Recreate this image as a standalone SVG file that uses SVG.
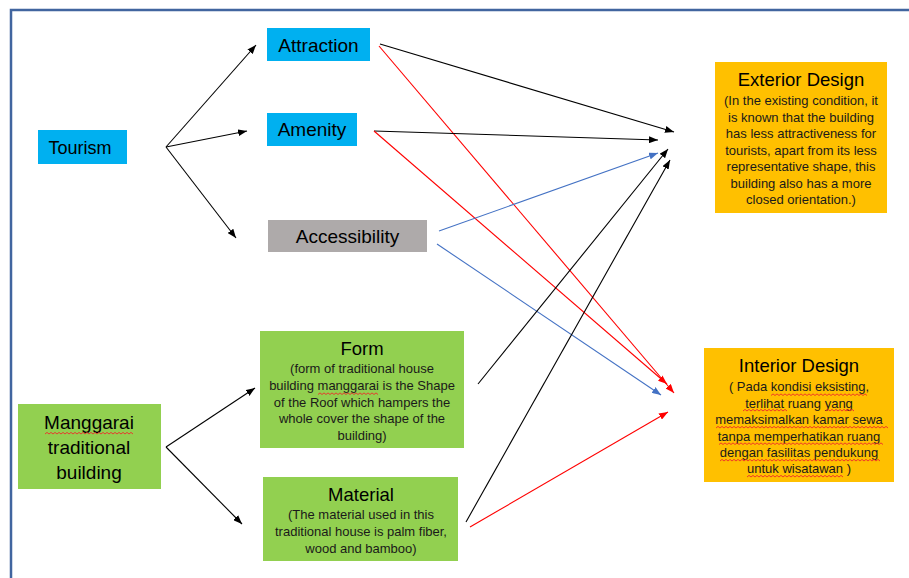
<svg xmlns="http://www.w3.org/2000/svg" width="909" height="578" viewBox="0 0 909 578">
<defs>
<style>
.t{font-family:"Liberation Sans",Arial,sans-serif;text-anchor:middle;fill:#000}
.lbl{font-size:19px}
.ttl{font-size:18.5px}
.body{font-size:13px;fill:#1a1a1a}
.ln{fill:none;stroke-width:1.1}
.k{stroke:#000}
.r{stroke:#FF0000}
.b{stroke:#4472C4}
.sq{fill:none;stroke:#EE2A2A;stroke-width:0.9}
</style>
<marker id="ak" viewBox="0 0 10 10" refX="10" refY="5" markerUnits="userSpaceOnUse" markerWidth="9" markerHeight="7" orient="auto" preserveAspectRatio="none"><path d="M0,0 L10,5 L0,10 z" fill="#000"/></marker>
<marker id="ar" viewBox="0 0 10 10" refX="10" refY="5" markerUnits="userSpaceOnUse" markerWidth="9" markerHeight="7" orient="auto" preserveAspectRatio="none"><path d="M0,0 L10,5 L0,10 z" fill="#FF0000"/></marker>
<marker id="ab" viewBox="0 0 10 10" refX="10" refY="5" markerUnits="userSpaceOnUse" markerWidth="9" markerHeight="7" orient="auto" preserveAspectRatio="none"><path d="M0,0 L10,5 L0,10 z" fill="#4472C4"/></marker>
</defs>
<rect width="909" height="578" fill="#fff"/>
<path d="M11,578 L11,10 L909,10" fill="none" stroke="#41659F" stroke-width="2.5"/>

<g id="connectors">
<path class="ln k" d="M166,147 L256,45" marker-end="url(#ak)"/>
<path class="ln k" d="M166,147 L247,131" marker-end="url(#ak)"/>
<path class="ln k" d="M166,147 L236,238" marker-end="url(#ak)"/>
<path class="ln k" d="M166,447 L255,388" marker-end="url(#ak)"/>
<path class="ln k" d="M166,447 L242,524" marker-end="url(#ak)"/>
<path class="ln k" d="M380,44 L674,132" marker-end="url(#ak)"/>
<path class="ln r" d="M379,46 L674,393" marker-end="url(#ar)"/>
<path class="ln k" d="M374,131 L658,140" marker-end="url(#ak)"/>
<path class="ln r" d="M374,131 L667,384" marker-end="url(#ar)"/>
<path class="ln b" d="M439,231 L658,153" marker-end="url(#ab)"/>
<path class="ln b" d="M437,244 L661,395" marker-end="url(#ab)"/>
<path class="ln k" d="M478,384 L668,149" marker-end="url(#ak)"/>
<path class="ln k" d="M466,522 L670,160" marker-end="url(#ak)"/>
<path class="ln r" d="M470,527 L668,412" marker-end="url(#ar)"/>
</g>

<g id="attraction">
<rect x="267" y="28" width="103" height="33" fill="#00B0F0"/>
<text class="t lbl" x="318.5" y="52">Attraction</text>
</g>
<g id="amenity">
<rect x="267" y="113" width="90" height="33" fill="#00B0F0"/>
<text class="t lbl" x="312" y="136">Amenity</text>
</g>
<g id="tourism">
<rect x="38" y="130" width="89" height="34" fill="#00B0F0"/>
<text class="t" style="font-size:18px" x="80" y="154">Tourism</text>
</g>
<g id="accessibility">
<rect x="268" y="220" width="159" height="32" fill="#AEAAAA"/>
<text class="t lbl" x="347.5" y="243">Accessibility</text>
</g>
<g id="exterior">
<rect x="715" y="62" width="172" height="151" fill="#FFC000"/>
<text class="t ttl" x="801" y="86">Exterior Design</text>
<text class="t body" x="801" y="105">(In the existing condition, it</text>
<text class="t body" x="801" y="121.5">is known that the building</text>
<text class="t body" x="801" y="138">has less attractiveness for</text>
<text class="t body" x="801" y="154.5">tourists, apart from its less</text>
<text class="t body" x="801" y="171">representative shape, this</text>
<text class="t body" x="801" y="187.5">building also has a more</text>
<text class="t body" x="801" y="204">closed orientation.)</text>
</g>
<g id="interior">
<rect x="704" y="348" width="190" height="134" fill="#FFC000"/>
<text class="t ttl" x="799" y="372">Interior Design</text>
<text class="t body" x="799" y="391">( Pada kondisi eksisting,</text>
<text class="t body" x="799" y="407.5">terlihat ruang yang</text>
<text class="t body" x="799" y="424">memaksimalkan kamar sewa</text>
<text class="t body" x="799" y="440.5">tanpa memperhatikan ruang</text>
<text class="t body" x="799" y="457">dengan fasilitas pendukung</text>
<text class="t body" x="799" y="473">untuk wisatawan )</text>
<path class="sq" d="M771,395.5 l2,-1.6 2,1.6 2,-1.6 2,1.6 2,-1.6 2,1.6 2,-1.6 2,1.6 2,-1.6 2,1.6 2,-1.6 2,1.6 2,-1.6 2,1.6 2,-1.6 2,1.6 2,-1.6 2,1.6 2,-1.6 2,1.6 2,-1.6 2,1.6 2,-1.6 2,1.6 2,-1.6 2,1.6 2,-1.6 2,1.6 2,-1.6 2,1.6 2,-1.6 2,1.6 2,-1.6 2,1.6 2,-1.6 2,1.6 2,-1.6 2,1.6 2,-1.6 2,1.6 2,-1.6 2,1.6 2,-1.6 2,1.6 2,-1.6 2,1.6 2,-1.6 2,1.6"/>
<path class="sq" d="M743,411 l2,-1.6 2,1.6 2,-1.6 2,1.6 2,-1.6 2,1.6 2,-1.6 2,1.6 2,-1.6 2,1.6 2,-1.6 2,1.6 2,-1.6 2,1.6 2,-1.6 2,1.6 2,-1.6 2,1.6 2,-1.6 2,1.6 2,-1.6 2,1.6"/>
<path class="sq" d="M826,411 l2,-1.6 2,1.6 2,-1.6 2,1.6 2,-1.6 2,1.6 2,-1.6 2,1.6 2,-1.6 2,1.6 2,-1.6 2,1.6 2,-1.6 2,1.6"/>
<path class="sq" d="M716,428 l2,-1.6 2,1.6 2,-1.6 2,1.6 2,-1.6 2,1.6 2,-1.6 2,1.6 2,-1.6 2,1.6 2,-1.6 2,1.6 2,-1.6 2,1.6 2,-1.6 2,1.6 2,-1.6 2,1.6 2,-1.6 2,1.6 2,-1.6 2,1.6 2,-1.6 2,1.6 2,-1.6 2,1.6 2,-1.6 2,1.6 2,-1.6 2,1.6 2,-1.6 2,1.6 2,-1.6 2,1.6 2,-1.6 2,1.6 2,-1.6 2,1.6 2,-1.6 2,1.6 2,-1.6 2,1.6 2,-1.6 2,1.6 2,-1.6 2,1.6 2,-1.6 2,1.6 2,-1.6 2,1.6 2,-1.6 2,1.6 2,-1.6 2,1.6 2,-1.6 2,1.6 2,-1.6 2,1.6 2,-1.6 2,1.6 2,-1.6 2,1.6 2,-1.6 2,1.6 2,-1.6 2,1.6 2,-1.6 2,1.6 2,-1.6 2,1.6 2,-1.6 2,1.6 2,-1.6 2,1.6 2,-1.6 2,1.6 2,-1.6 2,1.6 2,-1.6 2,1.6 2,-1.6 2,1.6 2,-1.6 2,1.6 2,-1.6 2,1.6"/>
<path class="sq" d="M719,444.5 l2,-1.6 2,1.6 2,-1.6 2,1.6 2,-1.6 2,1.6 2,-1.6 2,1.6 2,-1.6 2,1.6 2,-1.6 2,1.6 2,-1.6 2,1.6 2,-1.6 2,1.6 2,-1.6 2,1.6 2,-1.6 2,1.6 2,-1.6 2,1.6 2,-1.6 2,1.6 2,-1.6 2,1.6 2,-1.6 2,1.6 2,-1.6 2,1.6 2,-1.6 2,1.6 2,-1.6 2,1.6 2,-1.6 2,1.6 2,-1.6 2,1.6 2,-1.6 2,1.6 2,-1.6 2,1.6 2,-1.6 2,1.6 2,-1.6 2,1.6 2,-1.6 2,1.6 2,-1.6 2,1.6 2,-1.6 2,1.6 2,-1.6 2,1.6 2,-1.6 2,1.6 2,-1.6 2,1.6 2,-1.6 2,1.6 2,-1.6 2,1.6 2,-1.6 2,1.6 2,-1.6 2,1.6 2,-1.6 2,1.6 2,-1.6 2,1.6 2,-1.6 2,1.6 2,-1.6 2,1.6 2,-1.6 2,1.6 2,-1.6 2,1.6 2,-1.6 2,1.6 2,-1.6 2,1.6"/>
<path class="sq" d="M720,461 l2,-1.6 2,1.6 2,-1.6 2,1.6 2,-1.6 2,1.6 2,-1.6 2,1.6 2,-1.6 2,1.6 2,-1.6 2,1.6 2,-1.6 2,1.6 2,-1.6 2,1.6 2,-1.6 2,1.6 2,-1.6 2,1.6 2,-1.6 2,1.6 2,-1.6 2,1.6 2,-1.6 2,1.6 2,-1.6 2,1.6 2,-1.6 2,1.6 2,-1.6 2,1.6 2,-1.6 2,1.6 2,-1.6 2,1.6 2,-1.6 2,1.6 2,-1.6 2,1.6 2,-1.6 2,1.6 2,-1.6 2,1.6 2,-1.6 2,1.6 2,-1.6 2,1.6 2,-1.6 2,1.6 2,-1.6 2,1.6 2,-1.6 2,1.6 2,-1.6 2,1.6 2,-1.6 2,1.6 2,-1.6 2,1.6 2,-1.6 2,1.6 2,-1.6 2,1.6 2,-1.6 2,1.6 2,-1.6 2,1.6 2,-1.6 2,1.6 2,-1.6 2,1.6 2,-1.6 2,1.6 2,-1.6 2,1.6 2,-1.6 2,1.6 2,-1.6 2,1.6"/>
<path class="sq" d="M747,477 l2,-1.6 2,1.6 2,-1.6 2,1.6 2,-1.6 2,1.6 2,-1.6 2,1.6 2,-1.6 2,1.6 2,-1.6 2,1.6 2,-1.6 2,1.6 2,-1.6 2,1.6 2,-1.6 2,1.6 2,-1.6 2,1.6 2,-1.6 2,1.6 2,-1.6 2,1.6 2,-1.6 2,1.6 2,-1.6 2,1.6 2,-1.6 2,1.6 2,-1.6 2,1.6 2,-1.6 2,1.6 2,-1.6 2,1.6 2,-1.6 2,1.6 2,-1.6 2,1.6 2,-1.6 2,1.6 2,-1.6 2,1.6 2,-1.6 2,1.6 2,-1.6 2,1.6"/>
</g>
<g id="form">
<rect x="260" y="331" width="204" height="117" fill="#92D050"/>
<text class="t ttl" x="362" y="355">Form</text>
<text class="t body" x="362" y="373">(form of traditional house</text>
<text class="t body" x="362" y="390">building manggarai is the Shape</text>
<text class="t body" x="362" y="407">of the Roof which hampers the</text>
<text class="t body" x="362" y="423">whole cover the shape of the</text>
<text class="t body" x="362" y="440">building)</text>
<path class="sq" d="M318,394.5 l2,-1.6 2,1.6 2,-1.6 2,1.6 2,-1.6 2,1.6 2,-1.6 2,1.6 2,-1.6 2,1.6 2,-1.6 2,1.6 2,-1.6 2,1.6 2,-1.6 2,1.6 2,-1.6 2,1.6 2,-1.6 2,1.6 2,-1.6 2,1.6 2,-1.6 2,1.6 2,-1.6 2,1.6 2,-1.6 2,1.6 2,-1.6 2,1.6"/>
</g>
<g id="material">
<rect x="263" y="477" width="195" height="84" fill="#92D050"/>
<text class="t ttl" x="361" y="501">Material</text>
<text class="t body" x="361" y="519">(The material used in this</text>
<text class="t body" x="361" y="536">traditional house is palm fiber,</text>
<text class="t body" x="361" y="553">wood and bamboo)</text>
</g>
<g id="manggarai">
<rect x="18" y="404" width="143" height="85" fill="#92D050"/>
<text class="t lbl" x="89" y="429">Manggarai</text>
<text class="t lbl" x="89" y="454">traditional</text>
<text class="t lbl" x="89" y="479">building</text>
<path class="sq" d="M45,434 l2,-1.6 2,1.6 2,-1.6 2,1.6 2,-1.6 2,1.6 2,-1.6 2,1.6 2,-1.6 2,1.6 2,-1.6 2,1.6 2,-1.6 2,1.6 2,-1.6 2,1.6 2,-1.6 2,1.6 2,-1.6 2,1.6 2,-1.6 2,1.6 2,-1.6 2,1.6 2,-1.6 2,1.6 2,-1.6 2,1.6 2,-1.6 2,1.6 2,-1.6 2,1.6 2,-1.6 2,1.6 2,-1.6 2,1.6 2,-1.6 2,1.6 2,-1.6 2,1.6 2,-1.6 2,1.6 2,-1.6 2,1.6"/>
</g>
</svg>
